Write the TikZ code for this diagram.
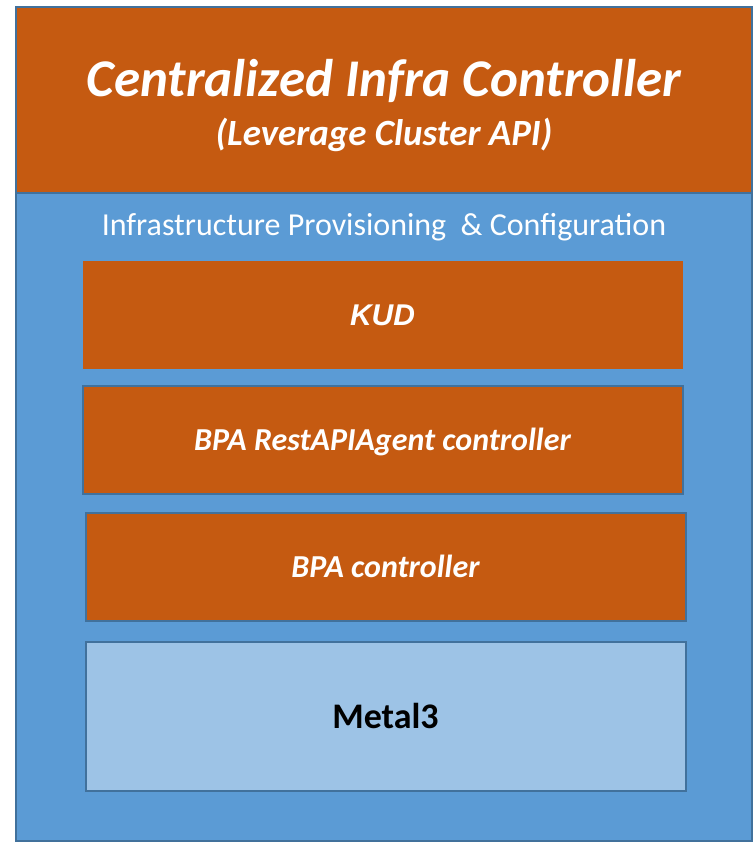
\documentclass[tikz,border=0pt]{standalone}
\usepackage{fontspec}
\setmainfont{Carlito}
\newfontfamily\arialfont{Liberation Sans}
\usetikzlibrary{positioning}

\definecolor{infraorange}{HTML}{C55A11}
\definecolor{infrablue}{HTML}{5B9BD5}
\definecolor{infralight}{HTML}{9DC3E6}
\definecolor{infraedge}{HTML}{41719C}

\tikzset{
  panel/.style={draw=infraedge, line width=2pt, inner sep=0pt, outer sep=0pt},
  layer/.style={panel, fill=infraorange, text=white,
    font=\bfseries\itshape\fontsize{32}{36}\selectfont,
    minimum width=600pt, minimum height=108pt, text height=21pt, text depth=0pt},
}

\begin{document}
\begin{tikzpicture}[x=1pt, y=-1pt, node distance=18pt]
    \useasboundingbox (0,0) rectangle (755,844);
    \node[panel, fill=infraorange, minimum width=736pt, minimum height=186pt,
          anchor=south west] (cic) at (16,193) {};
    \node[text=white, font=\bfseries\itshape\fontsize{53}{60}\selectfont,
          below=89pt of cic.north, anchor=base] (cicname) {Centralized Infra Controller};
    \node[text=white, font=\bfseries\itshape\fontsize{37}{42}\selectfont,
          below=49pt of cicname.base, anchor=base] (capi) {(Leverage Cluster API)};
    \node[panel, fill=infrablue, minimum width=736pt, minimum height=648pt,
          anchor=north west] (infra) at (16,193) {};
    \node[text=white, font=\fontsize{32}{36}\selectfont, below=17pt of infra.north]
          (title) {Infrastructure Provisioning\ \ \& Configuration};
    \node[layer, draw=none, font=\arialfont\bfseries\itshape\fontsize{30}{36}\selectfont,
          anchor=north] (kud) at (382.5,261) {KUD};
    \node[layer, below=17pt of kud] (rest) {BPA RestAPIAgent controller};
    \node[layer, below=19pt of rest, xshift=3pt] (bpa) {BPA controller};
    \node[layer, fill=infralight, text=black, font=\bfseries\fontsize{36}{40}\selectfont,
          minimum height=149pt, text height=23pt, below=21pt of bpa] (metal) {Metal3};
\end{tikzpicture}
\end{document}
